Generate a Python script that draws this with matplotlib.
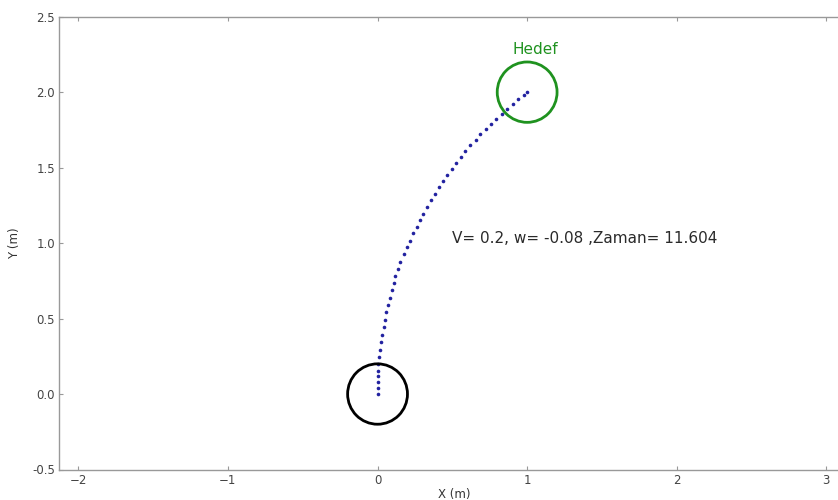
import matplotlib
matplotlib.use('Agg')
import matplotlib.pyplot as plt
from matplotlib.patches import Circle

# robot path (m)
path_x = [0.000, 0.002, 0.002, 0.002, 0.002, 0.005, 0.009, 0.018, 0.025, 0.031,
          0.040, 0.049, 0.058, 0.069, 0.082, 0.094, 0.107, 0.120, 0.134, 0.152,
          0.174, 0.198, 0.218, 0.238, 0.261, 0.283, 0.305, 0.332, 0.356, 0.383,
          0.410, 0.437, 0.466, 0.495, 0.523, 0.555, 0.586, 0.620, 0.655, 0.688,
          0.722, 0.760, 0.795, 0.831, 0.867, 0.904, 0.942, 0.978, 1.000]
path_y = [0.000, 0.042, 0.080, 0.117, 0.155, 0.200, 0.248, 0.292, 0.345, 0.392,
          0.447, 0.491, 0.542, 0.591, 0.639, 0.690, 0.735, 0.783, 0.827, 0.875,
          0.927, 0.971, 1.017, 1.064, 1.106, 1.150, 1.194, 1.239, 1.283, 1.327,
          1.369, 1.409, 1.451, 1.491, 1.531, 1.571, 1.610, 1.647, 1.683, 1.721,
          1.756, 1.790, 1.823, 1.856, 1.889, 1.922, 1.956, 1.984, 2.000]

start = (0.0, 0.0)
goal = (1.0, 2.0)
radius = 0.2
v, w, t = 0.2, -0.08, 11.604

fig = plt.figure(figsize=(8.38, 5.0), dpi=100)
# axes run past the right edge of the figure, as in the cropped original
ax = fig.add_axes([0.0708, 0.061, 0.9794, 0.9056])

ax.plot(path_x, path_y, 'o', color='#2222a0', markersize=2.6, markeredgewidth=0, zorder=2)
ax.add_patch(Circle(start, radius, fill=False, ec='black', lw=2.0, zorder=3))
ax.add_patch(Circle(goal, radius, fill=False, ec='#1f921f', lw=2.0, zorder=3))

ax.text(0.9, 2.25, 'Hedef', color='#1f921f', fontsize=11)
ax.text(0.5, 1.0, 'V= %s, w= %s ,Zaman= %s' % (v, w, t), color='#2a2a2a', fontsize=11)

ax.set_xlim(-2.127, 3.359)
ax.set_ylim(-0.5, 2.5)
ax.set_xticks([-2, -1, 0, 1, 2, 3])
ax.set_yticks([-0.5, 0.0, 0.5, 1.0, 1.5, 2.0, 2.5])
ax.set_yticklabels(['%.1f' % y for y in ax.get_yticks()])

# label placed at the centre of the original (uncropped) axes
ax.set_xlabel('X (m)', fontsize=8.5, color='#333333', labelpad=0.5)
ax.xaxis.set_label_coords((454 - 59.3) / (0.9794 * 838), -0.04)
ax.set_ylabel('Y (m)', fontsize=8.5, color='#333333', labelpad=8)
ax.tick_params(direction='in', top=True, right=False, length=3, width=0.8,
               color='#999999', labelsize=8.5, labelcolor='#444444', pad=3)
for s in ax.spines.values():
    s.set_color('#999999')
    s.set_linewidth(1.0)

fig.savefig('out.png', dpi=100)
